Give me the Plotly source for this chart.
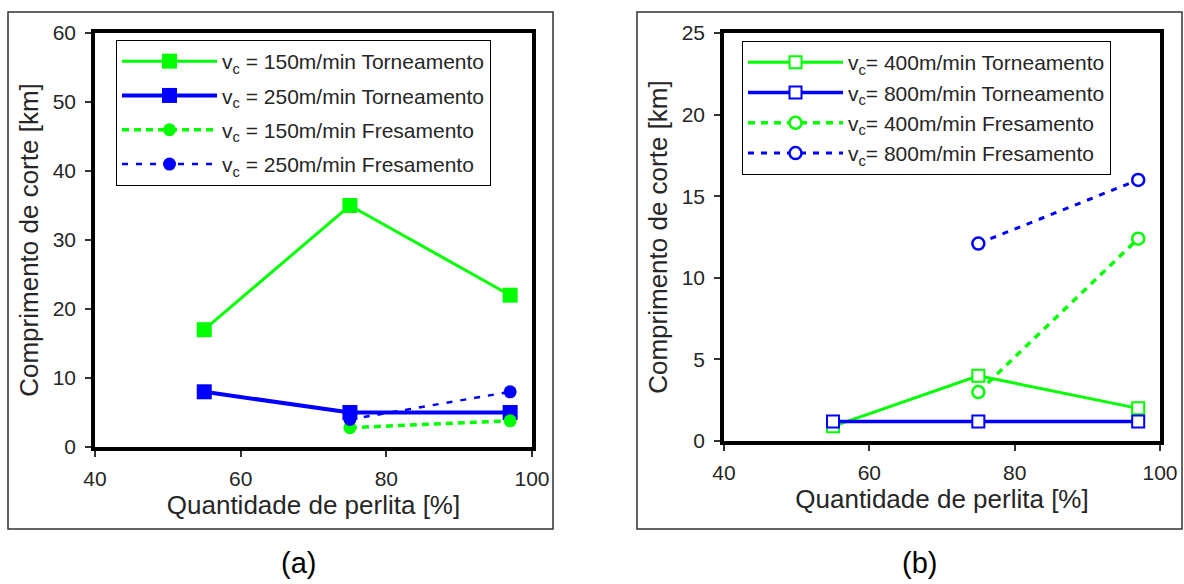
import plotly.graph_objects as go

W, H = 1184, 584

# ---------------- data ----------------
perlita = [55, 75, 97]
perlita_fres = [75, 97]

# (a)
a_torn_150 = [17, 35, 22]
a_torn_250 = [8, 5, 5]
a_fres_150 = [2.8, 3.8]
a_fres_250 = [4, 8]

# (b)
b_torn_400 = [0.9, 4, 2]
b_torn_800 = [1.2, 1.2, 1.2]
b_fres_400 = [3, 12.4]
b_fres_800 = [12.1, 16]

names_a = ["v<sub>c</sub> = 150m/min Torneamento", "v<sub>c</sub> = 250m/min Torneamento",
           "v<sub>c</sub> = 150m/min Fresamento", "v<sub>c</sub> = 250m/min Fresamento"]
names_b = ["v<sub>c</sub>= 400m/min Torneamento", "v<sub>c</sub>= 800m/min Torneamento",
           "v<sub>c</sub>= 400m/min Fresamento", "v<sub>c</sub>= 800m/min Fresamento"]

x_ticks = [40, 60, 80, 100]
ya_ticks = [0, 10, 20, 30, 40, 50, 60]
yb_ticks = [0, 5, 10, 15, 20, 25]

x_title = "Quantidade de perlita [%]"
y_title = "Comprimento de corte [km]"
panel_labels = ["(a)", "(b)"]

GREEN = "#00FF00"
BLUE = "#0000FF"
TXT = "#262626"
FONT = "Liberation Sans, Arial, sans-serif"

fig = go.Figure()

# ---- panel (a) ----
fig.add_trace(go.Scatter(x=perlita, y=a_torn_150, name=names_a[0], mode="lines+markers",
                         line=dict(color=GREEN, width=3),
                         marker=dict(symbol="square", size=15, color=GREEN),
                         xaxis="x", yaxis="y", legend="legend", legendgroup="a1"))
fig.add_trace(go.Scatter(x=perlita, y=a_torn_250, name=names_a[1], mode="lines+markers",
                         line=dict(color=BLUE, width=4),
                         marker=dict(symbol="square", size=15, color=BLUE),
                         xaxis="x", yaxis="y", legend="legend", legendgroup="a2"))
fig.add_trace(go.Scatter(x=perlita_fres, y=a_fres_150, name=names_a[2], mode="lines+markers",
                         line=dict(color=GREEN, width=3.5, dash="7px,5px"),
                         marker=dict(symbol="circle", size=13, color=GREEN),
                         xaxis="x", yaxis="y", legend="legend", legendgroup="a3"))
fig.add_trace(go.Scatter(x=perlita_fres, y=a_fres_250, name=names_a[3], mode="lines+markers",
                         line=dict(color=BLUE, width=2.5, dash="6px,8px"),
                         marker=dict(symbol="circle", size=13, color=BLUE),
                         xaxis="x", yaxis="y", legend="legend", legendgroup="a4"))

# ---- panel (b) ----
fig.add_trace(go.Scatter(x=perlita, y=b_torn_400, name=names_b[0], mode="lines+markers",
                         line=dict(color=GREEN, width=3),
                         marker=dict(symbol="square", size=12, color="white",
                                     line=dict(color=GREEN, width=2)),
                         xaxis="x2", yaxis="y2", legend="legend2"))
fig.add_trace(go.Scatter(x=perlita, y=b_torn_800, name=names_b[1], mode="lines+markers",
                         line=dict(color=BLUE, width=3.5),
                         marker=dict(symbol="square", size=12, color="white",
                                     line=dict(color=BLUE, width=2)),
                         xaxis="x2", yaxis="y2", legend="legend2"))
fig.add_trace(go.Scatter(x=perlita_fres, y=b_fres_400, name=names_b[2], mode="lines+markers",
                         line=dict(color=GREEN, width=3.5, dash="7px,6px"),
                         marker=dict(symbol="circle", size=12, color="white",
                                     line=dict(color=GREEN, width=2.5)),
                         xaxis="x2", yaxis="y2", legend="legend2"))
fig.add_trace(go.Scatter(x=perlita_fres, y=b_fres_800, name=names_b[3], mode="lines+markers",
                         line=dict(color=BLUE, width=3, dash="6px,7px"),
                         marker=dict(symbol="circle", size=12, color="white",
                                     line=dict(color=BLUE, width=2.5)),
                         xaxis="x2", yaxis="y2", legend="legend2"))

def px_x(p):
    return p / W

def px_y(p):
    return 1 - p / H

axis_common = dict(showgrid=False, zeroline=False, showline=True, linecolor="black",
                   linewidth=3.5, mirror=True, ticks="outside", ticklen=6, tickwidth=1.5,
                   tickcolor="#333",
                   tickfont=dict(size=21, color=TXT, family=FONT))

title_font = dict(size=26, color=TXT, family=FONT)
legend_common = dict(xanchor="left", yanchor="top", bgcolor="white", bordercolor="black",
                     borderwidth=1, font=dict(size=21, color=TXT, family=FONT), itemwidth=95)

fig.update_layout(
    width=W, height=H, margin=dict(l=0, r=0, t=0, b=0, autoexpand=False),
    paper_bgcolor="white", plot_bgcolor="white",
    font=dict(family=FONT, color=TXT),
    showlegend=True,
    xaxis=dict(domain=[px_x(95), px_x(532)], range=[40, 100], tickvals=x_ticks, anchor="y",
               ticklabelstandoff=4,
               title=dict(text=x_title, font=title_font, standoff=0), **axis_common),
    yaxis=dict(domain=[px_y(447), px_y(33)], range=[0, 60], tickvals=ya_ticks, anchor="x",
               ticklabelstandoff=5,
               title=dict(text=y_title, font=title_font, standoff=8), **axis_common),
    xaxis2=dict(domain=[px_x(724), px_x(1160)], range=[40, 100], tickvals=x_ticks, anchor="y2",
                ticklabelstandoff=4,
                title=dict(text=x_title, font=title_font, standoff=0), **axis_common),
    yaxis2=dict(domain=[px_y(441), px_y(33)], range=[0, 25], tickvals=yb_ticks, anchor="x2",
                ticklabelstandoff=5,
                title=dict(text=y_title, font=title_font, standoff=8), **axis_common),
    legend=dict(x=px_x(116), y=px_y(40), tracegroupgap=4, **legend_common),
    legend2=dict(x=px_x(742), y=px_y(41), tracegroupgap=1, **legend_common),
    shapes=[
        dict(type="rect", xref="paper", yref="paper", x0=px_x(8), x1=px_x(553),
             y0=px_y(529), y1=px_y(12), line=dict(color="#333", width=1.5), layer="below"),
        dict(type="rect", xref="paper", yref="paper", x0=px_x(637), x1=px_x(1182),
             y0=px_y(529), y1=px_y(12), line=dict(color="#333", width=1.5), layer="below"),
    ],
    annotations=[
        dict(text=panel_labels[0], xref="paper", yref="paper", x=px_x(298), y=px_y(563),
             xanchor="center", yanchor="middle", showarrow=False,
             font=dict(size=29, color="black", family=FONT)),
        dict(text=panel_labels[1], xref="paper", yref="paper", x=px_x(920), y=px_y(563),
             xanchor="center", yanchor="middle", showarrow=False,
             font=dict(size=29, color="black", family=FONT)),
    ],
)

fig.write_html("out.html",
               post_script="document.body.style.margin='0px';document.body.style.overflow='hidden';")
